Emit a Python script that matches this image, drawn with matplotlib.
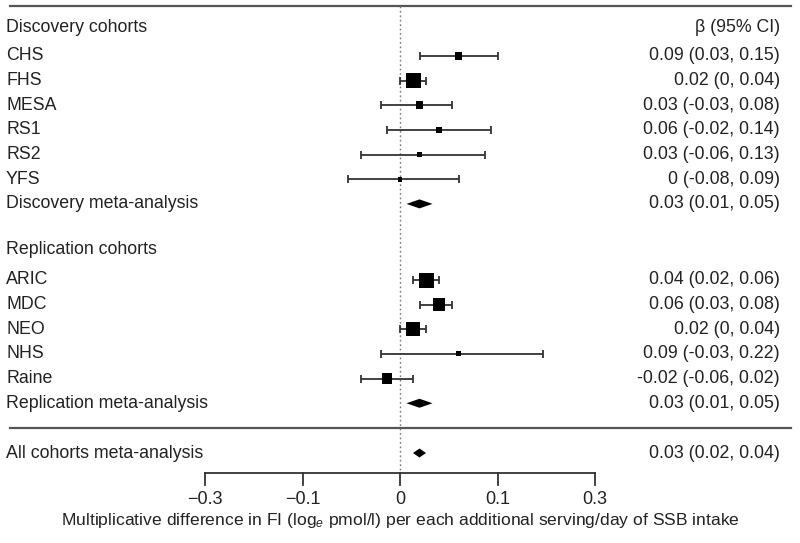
import numpy as np
import matplotlib
matplotlib.use("Agg")
import matplotlib.pyplot as plt
from matplotlib import font_manager

# %% data
disc_names = ["CHS", "FHS", "MESA", "RS1", "RS2", "YFS"]
disc_beta = [0.09, 0.02, 0.03, 0.06, 0.03, 0.0]
disc_lo = [0.03, 0.0, -0.03, -0.02, -0.06, -0.08]
disc_hi = [0.15, 0.04, 0.08, 0.14, 0.13, 0.09]
disc_weight = [22, 100, 28, 19, 11, 11]      # relative box weight

rep_names = ["ARIC", "MDC", "NEO", "NHS", "Raine"]
rep_beta = [0.04, 0.06, 0.02, 0.09, -0.02]
rep_lo = [0.02, 0.03, 0.0, -0.03, -0.06]
rep_hi = [0.06, 0.08, 0.04, 0.22, 0.02]
rep_weight = [100, 75, 87, 11, 49]

meta_names = ["Discovery meta-analysis", "Replication meta-analysis", "All cohorts meta-analysis"]
meta_beta = [0.03, 0.03, 0.03]
meta_lo = [0.01, 0.01, 0.02]
meta_hi = [0.05, 0.05, 0.04]

tick_pos = [-0.3, -0.15, 0, 0.15, 0.3]
tick_labels = ["\u22120.3", "\u22120.1", "0", "0.1", "0.3"]

# %% fonts
names = {f.name for f in font_manager.fontManager.ttflist}
narrow = "Liberation Sans Narrow" if "Liberation Sans Narrow" in names else "Liberation Sans"
plt.rcParams["font.family"] = ["Liberation Sans", "DejaVu Sans"]
plt.rcParams["mathtext.fontset"] = "custom"
plt.rcParams["mathtext.it"] = narrow + ":italic"
plt.rcParams["mathtext.rm"] = narrow

# %% layout (pixel rows, y grows downwards)
W, H = 800, 543
scale = 650.0           # px per unit of beta
x0 = 400                # pixel of beta = 0
px = 1.0 / scale
step = 24.65
disc_y = 56 + step * np.arange(len(disc_names))
rep_y = 280 + step * np.arange(len(rep_names))
meta_y = [disc_y[-1] + step, rep_y[-1] + step, 453]
axis_y = 473

fig = plt.figure(figsize=(W / 100, H / 100), dpi=100)
ax = fig.add_axes([0, 0, 1, 1])
ax.set_xlim(-x0 * px, (W - x0) * px)
ax.set_ylim(H, 0)
ax.axis("off")

xl = -x0 * px + 6 * px
xr = -x0 * px + 780 * px
fs = 12.8
line_col = "#555555"
ink = "#222222"

def fmt(v):
    s = f"{v:.2f}".rstrip("0").rstrip(".")
    return "0" if s in ("-0", "") else s

def row_text(y, name, b, lo, hi):
    ax.text(xl, y, name, fontsize=fs, va="center", ha="left", color=ink)
    ax.text(xr, y, f"{fmt(b)} ({fmt(lo)}, {fmt(hi)})", fontsize=fs, va="center", ha="right", color=ink)

# horizontal rules
ax.plot([-x0 * px + 10 * px, -x0 * px + 791 * px], [6, 6], color=line_col, lw=1.6)
ax.plot([-x0 * px + 10 * px, -x0 * px + 791 * px], [428, 428], color=line_col, lw=1.6)

# zero line
ax.plot([0, 0], [6, axis_y], color="#777777", lw=1.0, ls=(0, (1.2, 2.0)))

# headers
ax.text(xl, 27, "Discovery cohorts", fontsize=fs, va="center", ha="left", color=ink)
ax.text(xl, 249, "Replication cohorts", fontsize=fs, va="center", ha="left", color=ink)
ax.text(xr, 27, "\u03b2 (95% CI)", fontsize=fs, va="center", ha="right", color=ink)

# studies
for names_, beta, lo, hi, w, ys in [(disc_names, disc_beta, disc_lo, disc_hi, disc_weight, disc_y),
                                    (rep_names, rep_beta, rep_lo, rep_hi, rep_weight, rep_y)]:
    beta = np.array(beta); lo = np.array(lo); hi = np.array(hi)
    ax.errorbar(beta, ys, xerr=[beta - lo, hi - beta], fmt="none", ecolor="#333333",
                elinewidth=1.3, capsize=3.2, capthick=1.3, zorder=2)
    side_px = 15 * np.sqrt(np.array(w) / 100.0)
    ax.scatter(beta, ys, marker="s", s=(side_px * 0.72) ** 2, color="black", zorder=3, linewidths=0)
    for i in range(len(names_)):
        row_text(ys[i], names_[i], beta[i], lo[i], hi[i])

# diamonds
for i in range(len(meta_names)):
    y = meta_y[i]
    hh = 4.5
    ax.fill([meta_lo[i], meta_beta[i], meta_hi[i], meta_beta[i]], [y, y - hh, y, y + hh],
            color="black", zorder=3, lw=0)
    row_text(y, meta_names[i], meta_beta[i], meta_lo[i], meta_hi[i])

# x axis
ax.plot([tick_pos[0], tick_pos[-1]], [axis_y, axis_y], color="#333333", lw=1.3)
for t, lab in zip(tick_pos, tick_labels):
    ax.plot([t, t], [axis_y, axis_y + 12], color="#333333", lw=1.3)
    ax.text(t, 499, lab, fontsize=13, family=narrow, ha="center", va="center", color=ink)
ax.text(0, 521, "Multiplicative difference in FI (log$_e$ pmol/l) per each additional serving/day of SSB intake",
        fontsize=12.6, family=narrow, ha="center", va="center", color=ink)

fig.savefig("out.png", dpi=100)
